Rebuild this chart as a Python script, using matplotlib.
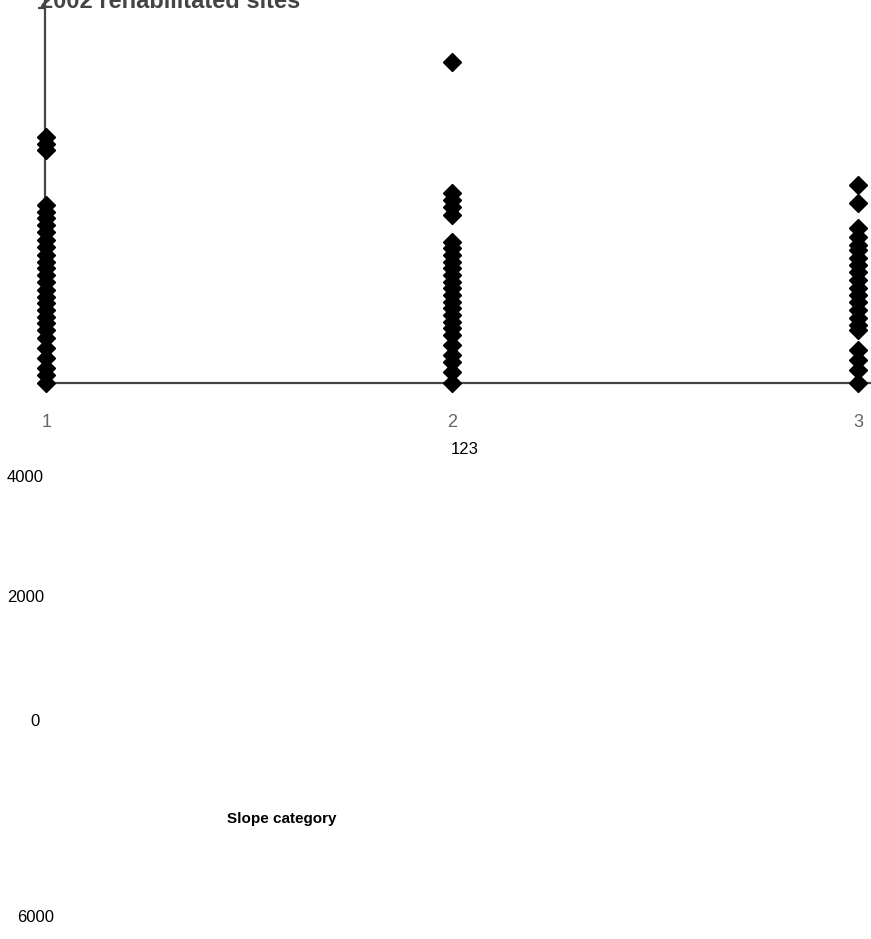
import matplotlib.pyplot as plt
import numpy as np

# values (y in the plot's own units, 0..6000)
categories = [1, 2, 3]
slope1_values = [3940, 3820, 3730, 2850, 2740, 2640, 2530, 2420, 2290, 2180, 2050, 1940,
                 1840, 1730, 1620, 1490, 1380, 1280, 1170, 1060, 960, 850, 720, 560,
                 400, 240, 130, 0]
slope2_values = [5140, 3040, 2930, 2820, 2690, 2260, 2160, 2050, 1940, 1840, 1730, 1620,
                 1520, 1410, 1300, 1200, 1090, 980, 880, 770, 610, 450, 340, 180, 0]
slope3_values = [3170, 2880, 2480, 2340, 2210, 2130, 2000, 1890, 1780, 1650, 1520, 1410,
                 1300, 1170, 1040, 930, 850, 530, 370, 210, 0]
tick_labels = ['1', '2', '3']
loose_labels = ['123', '4000', '2000', '0', '6000']

W, H = 871, 939
fig = plt.figure(figsize=(W / 100, H / 100), dpi=100)
ax = fig.add_axes([45 / W, 1 - 383 / H, (W - 45) / W, 383 / H])

for cat, vals in zip(categories, [slope1_values, slope2_values, slope3_values]):
    ax.plot(np.full(len(vals), cat), vals, 'D', color='black', ms=9.5, clip_on=False, zorder=3)

ax.set_xlim(0.997, 3.032)
ax.set_ylim(0, 6128)
for s in ['top', 'right']:
    ax.spines[s].set_visible(False)
for s in ['left', 'bottom']:
    ax.spines[s].set_color('#444444')
    ax.spines[s].set_linewidth(1.6)
ax.set_yticks([6000])
ax.set_yticklabels([])
ax.tick_params(axis='y', length=5, width=1.6, color='#444444')
ax.set_xticks(categories)
ax.set_xticklabels(tick_labels, family='Liberation Sans', fontsize=13, color='#666666')
ax.tick_params(axis='x', length=0, pad=22)


def px(x, y):
    return x / W, 1 - y / H


font = 'Liberation Sans'
fig.text(*px(40, 2), '2002 rehabilitated sites', family=font, fontweight='bold',
         fontsize=17, color='#444444', ha='left', va='center')
fig.text(*px(465, 450), loose_labels[0], family=font, fontsize=12, ha='center', va='center')
fig.text(*px(7, 477), loose_labels[1], family=font, fontsize=12, ha='left', va='center')
fig.text(*px(7, 598), loose_labels[2], family=font, fontsize=12, ha='left', va='center')
fig.text(*px(35, 721), loose_labels[3], family=font, fontsize=12, ha='center', va='center')
fig.text(*px(282, 819), 'Slope category', family=font, fontweight='bold', fontsize=11,
         ha='center', va='center')
fig.text(*px(17, 917), loose_labels[4], family=font, fontsize=12, ha='left', va='center')

fig.savefig('out.png', dpi=100)
